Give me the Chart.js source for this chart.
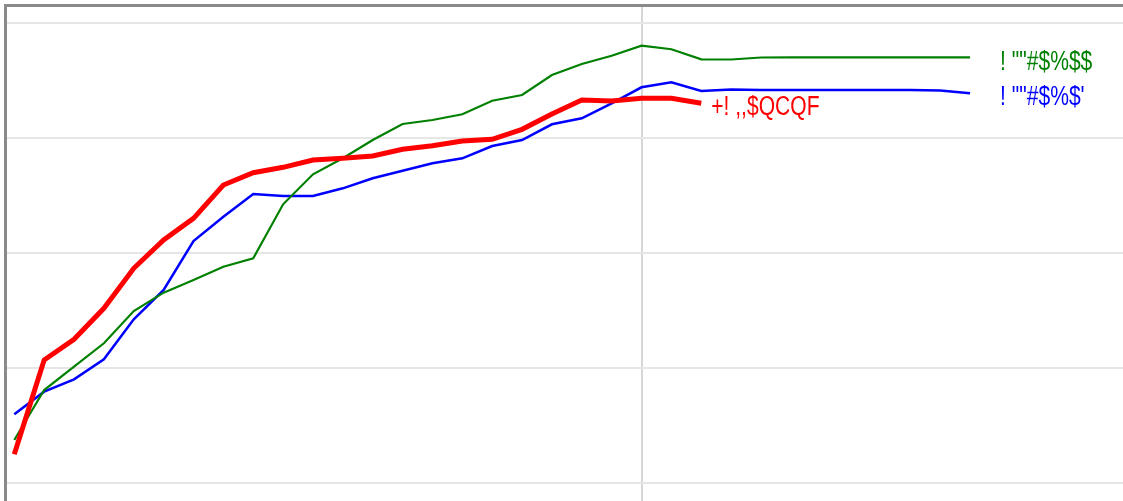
<!DOCTYPE html>
<html>
<head>
<meta charset="utf-8">
<script src="https://cdn.jsdelivr.net/npm/chart.js@4/dist/chart.umd.min.js"></script>
<style>
html,body{margin:0;padding:0;background:#fff;}
#wrap{width:1123px;height:501px;position:relative;}
</style>
</head>
<body>
<div id="wrap"><canvas id="c" width="1123" height="501"></canvas></div>
<script>
const xValues = [0,1,2,3,4,5,6,7,8,9,10,11,12,13,14,15,16,17,18,19,20,21,22,23,24,25,26,27,28,29,30,31,32];
const yTicks = [0,20,40,60,80];
const xTicks = [21];

const redName = "+! ,,$QCQF";
const redValues = [4.99,21.39,24.99,30.38,37.34,42.26,46.03,51.83,53.97,54.90,56.17,56.47,56.87,58.03,58.66,59.48,59.77,61.51,64.17,66.61,66.43,66.90,66.90,66.03];

const greenName = "! \"\"#$%$$";
const greenValues = [7.48,16.17,20.23,24.30,29.91,33.10,35.30,37.62,39.08,48.47,53.69,56.47,59.65,62.43,63.13,64.12,66.49,67.48,70.96,72.87,74.31,76.05,75.43,73.69,73.65,74.00,74.03,74.03,74.03,74.03,74.03,74.03,74.03];

const blueName = "! \"\"#$%$'";
const blueValues = [11.95,15.88,18.03,21.51,28.47,33.57,42.09,46.31,50.26,49.91,49.91,51.25,52.99,54.31,55.60,56.47,58.61,59.65,62.38,63.43,66.03,68.82,69.69,68.17,68.43,68.35,68.35,68.35,68.35,68.35,68.35,68.26,67.77];

function pts(vals){ return vals.map((v,i)=>({x:xValues[i], y:v})); }

const endLabels = {
  id:'endLabels',
  afterDatasetsDraw(chart){
    const ctx = chart.ctx;
    chart.data.datasets.forEach((ds, di)=>{
      const meta = chart.getDatasetMeta(di);
      const last = meta.data[meta.data.length-1];
      ctx.save();
      ctx.font = '27px "Liberation Sans", Arial, sans-serif';
      ctx.textBaseline = 'alphabetic';
      ctx.textAlign = 'left';
      ctx.fillStyle = ds.borderColor;
      ctx.translate(last.x + ds.labelDx, last.y + ds.labelDy);
      ctx.scale(0.78, 1);
      ctx.fillText(ds.label, 0, 0);
      ctx.restore();
    });
  }
};

new Chart(document.getElementById('c'), {
  type:'line',
  data:{
    datasets:[
      {label:redName, data:pts(redValues), borderColor:'#ff0000', borderWidth:5, pointRadius:0, tension:0, labelDx:10, labelDy:12},
      {label:greenName, data:pts(greenValues), borderColor:'#008000', borderWidth:2.2, pointRadius:0, tension:0, labelDx:30, labelDy:12.5},
      {label:blueName, data:pts(blueValues), borderColor:'#0000ff', borderWidth:2.5, pointRadius:0, tension:0, labelDx:30, labelDy:12}
    ]
  },
  options:{
    responsive:false,
    animation:false,
    layout:{padding:{left:5, top:5, right:0, bottom:0}},
    plugins:{legend:{display:false}, tooltip:{enabled:false}},
    scales:{
      x:{
        type:'linear', position:'top', min:-0.311, max:37.12,
        afterBuildTicks(s){ s.ticks = xTicks.map(v=>({value:v})); },
        ticks:{display:false},
        grid:{color:'#d6d6d6', lineWidth:2, drawTicks:false},
        border:{display:true, color:'#8a8a8a', width:3}
      },
      y:{
        type:'linear', position:'left', min:-3.13, max:83.13,
        afterBuildTicks(s){ s.ticks = yTicks.map(v=>({value:v})); },
        ticks:{display:false},
        grid:{color:'#e6e6e6', lineWidth:2, drawTicks:false},
        border:{display:true, color:'#8a8a8a', width:3}
      }
    }
  },
  plugins:[endLabels]
});
</script>
</body>
</html>
